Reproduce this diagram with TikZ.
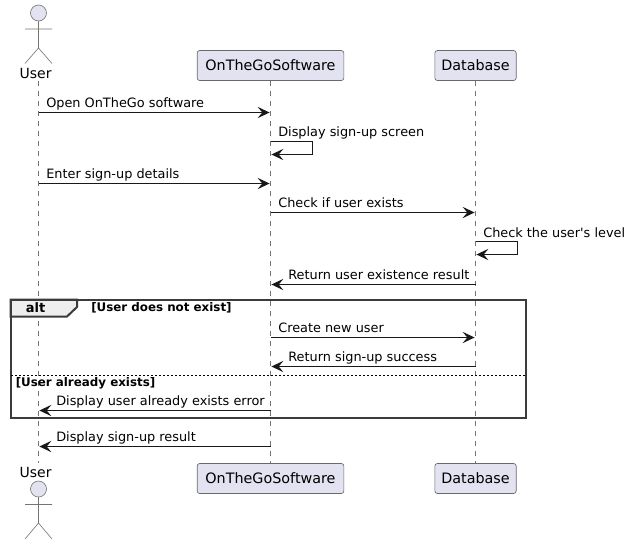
\documentclass[tikz,border=0pt]{standalone}
\usepackage{fontspec}
\setmainfont{DejaVu Sans}
\newfontfamily\msgfont{DejaVu Sans}
\usetikzlibrary{arrows.meta,calc}
\definecolor{partfill}{HTML}{E2E2F0}
\definecolor{ink}{HTML}{181818}
\definecolor{tabfill}{HTML}{EEEEEE}
\tikzset{
  x=0.75pt,y=-0.75pt,
  partbox/.style={draw=ink!65,fill=partfill,line width=0.5pt,rounded corners=1.9pt,minimum height=22.5pt,inner sep=0pt,font=\fontsize{10.75pt}{12pt}\selectfont},
  actorname/.style={inner sep=0pt,font=\fontsize{10.5pt}{12pt}\selectfont},
  lifeline/.style={draw=ink!60,line width=0.4pt,dash pattern=on 3.75pt off 3.75pt},
  stick/.style={draw=ink!60,line width=0.45pt},
  head/.style={draw=ink!60,fill=partfill,line width=0.45pt},
  msg/.style={draw=ink,line width=0.75pt,-{Stealth[length=9pt,width=8.5pt,inset=3.6pt,color=ink]},shorten >=0.7pt},
  msgtext/.style={inner sep=0pt,anchor=base west,text=black,font=\msgfont\fontsize{9.65pt}{12pt}\selectfont},
  guard/.style={inner sep=0pt,anchor=base west,text=black,font=\fontsize{8.9pt}{10pt}\bfseries\selectfont},
  frameline/.style={draw=ink!85,line width=1.5pt},
}
\begin{document}
\begin{tikzpicture}
\useasboundingbox (0,0) rectangle (628,544);
\fill[white] (0,0) rectangle (628,544);

% participants
\node[actorname] (utop) at (35.6,73) {User};
\node[actorname] (ubot) at (35.6,472) {User};
\node[partbox,minimum width=110pt] (otop) at (270.5,65.5) {OnTheGoSoftware};
\node[partbox,minimum width=110pt] (obot) at (270.5,478.5) {OnTheGoSoftware};
\node[partbox,minimum width=61pt] (dtop) at (475.5,65.5) {Database};
\node[partbox,minimum width=61pt] (dbot) at (475.5,478.5) {Database};

% lifelines
\draw[lifeline] (38.5,81) -- (38.5,463);
\draw[lifeline] (otop.south) -- (obot.north);
\draw[lifeline] (dtop.south) -- (dbot.north);
\coordinate (uL) at (38.5,0);
\coordinate (oL) at (270.5,0);
\coordinate (dL) at (475.5,0);

% actors
\draw[head] (38.5,13) circle (6pt);
\draw[stick] (38.5,21) -- (38.5,48) (25,29) -- (52,29) (25,63.5) -- (38.5,48) -- (52,63.5);
\draw[head] (38.5,489) circle (6pt);
\draw[stick] (38.5,497) -- (38.5,523) (25,504.5) -- (52,504.5) (25,539) -- (38.5,523) -- (52,539);

% rows
\coordinate (m1) at (0,112.5);
\coordinate (m2a) at (312.5,141.5);
\coordinate (m2b) at (312.5,154.5);
\coordinate (m3) at (0,183.5);
\coordinate (m4) at (0,212.5);
\coordinate (m5a) at (517.5,241.5);
\coordinate (m5b) at (517.5,254.5);
\coordinate (m6) at (0,284.5);
\coordinate (m7) at (0,337.5);
\coordinate (m8) at (0,366.5);
\coordinate (m9) at (0,410.5);
\coordinate (m10) at (0,446.5);

% alt frame
\coordinate (fTL) at (10.5,299.5);
\coordinate (fBR) at (526,418);
\coordinate (tabR) at (77,299.5);
\coordinate (tabC) at (77,307);
\coordinate (tabB) at (67,316.5);
\coordinate (tabL) at (10.5,316.5);
\draw[frameline,fill=tabfill] (fTL) -- (tabR) -- (tabC) -- (tabB) -- (tabL) -- cycle;
\draw[frameline] (fTL) rectangle (fBR);
\node[inner sep=0pt,anchor=base,font=\fontsize{9.75pt}{12pt}\bfseries\selectfont] (altlab) at (35.5,312) {alt};
\node[guard] (g1) at (91,311) {[User does not exist]};
\coordinate (sepL) at (11,375);
\coordinate (sepR) at (525.5,375);
\draw[draw=black,line width=0.5pt,dash pattern=on 1.5pt off 1.5pt] (sepL) -- (sepR);
\node[guard] (g2) at (15.5,386) {[User already exists]};

% messages
\draw[msg] (uL |- m1) -- (oL |- m1);
\node[msgtext] (t1) at (46,107) {Open OnTheGo software};
\draw[msg] (oL |- m2a) -- (m2a) -- (m2b) -- (oL |- m2b);
\node[msgtext] (t2) at (278,136) {Display sign-up screen};
\draw[msg] (uL |- m3) -- (oL |- m3);
\node[msgtext] (t3) at (46,178.5) {Enter sign-up details};
\draw[msg] (oL |- m4) -- (dL |- m4);
\node[msgtext] (t4) at (278,207.5) {Check if user exists};
\draw[msg] (dL |- m5a) -- (m5a) -- (m5b) -- (dL |- m5b);
\node[msgtext] (t5) at (483,237) {Check the user's level};
\draw[msg] (dL |- m6) -- (oL |- m6);
\node[msgtext] (t6) at (288,279) {Return user existence result};
\draw[msg] (oL |- m7) -- (dL |- m7);
\node[msgtext] (t7) at (278,332) {Create new user};
\draw[msg] (dL |- m8) -- (oL |- m8);
\node[msgtext] (t8) at (288,361) {Return sign-up success};
\draw[msg] (oL |- m9) -- (uL |- m9);
\node[msgtext] (t9) at (56,405) {Display user already exists error};
\draw[msg] (oL |- m10) -- (uL |- m10);
\node[msgtext] (t10) at (56,441) {Display sign-up result};
\end{tikzpicture}
\end{document}
